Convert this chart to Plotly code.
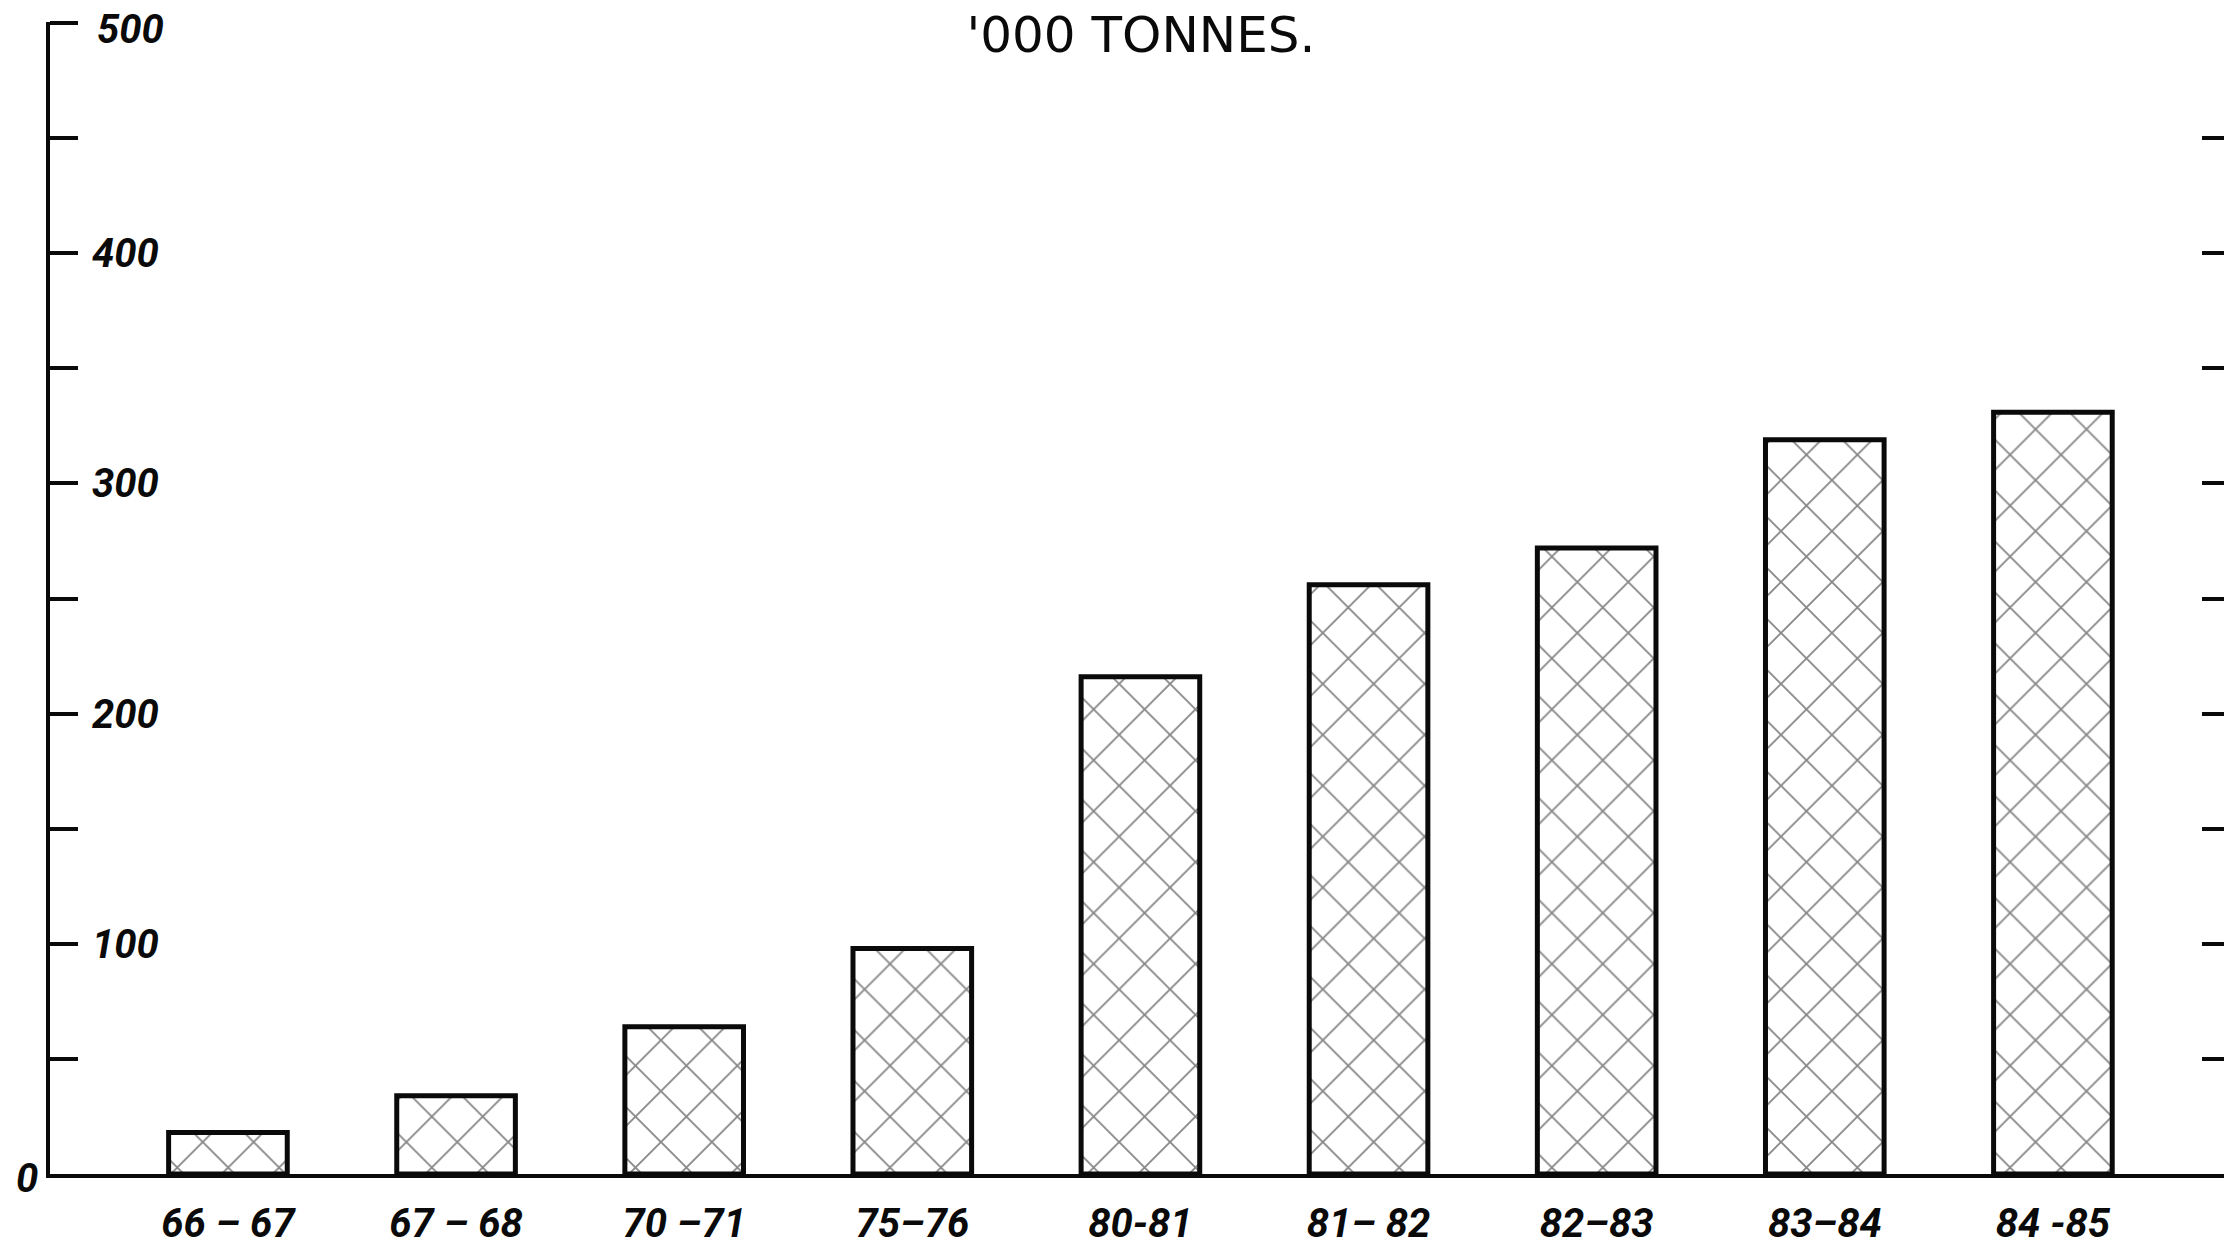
import plotly.graph_objects as go

categories = ["66 – 67", "67 – 68", "70 –71", "75–76", "80-81", "81– 82", "82–83", "83–84", "84 -85"]
values = [18, 34, 64, 98, 216, 256, 272, 319, 331]
y_label_vals = [100, 200, 300, 400]
y_label_text = ["100", "200", "300", "400"]
y_top_val, y_top_text = 500, "500"
y_minor_vals = [50, 150, 250, 350, 450]
right_tick_vals = [50, 100, 150, 200, 250, 300, 350, 400, 450]
title_text = "'000 TONNES."

W, H = 2224, 1255
INK = "#0a0a0a"
label_font = dict(family="Roboto, DejaVu Sans", size=40, color=INK, weight="bold", style="italic")

fig = go.Figure()
fig.add_trace(go.Bar(
    x=list(range(len(categories))), y=values, width=0.52,
    marker=dict(color="white",
                line=dict(color=INK, width=5),
                pattern=dict(shape="x", size=36, solidity=0.1, fgcolor="#111111", bgcolor="white")),
    showlegend=False, hoverinfo="skip"))
# invisible trace so the right-hand tick axis is drawn
fig.add_trace(go.Scatter(x=[0], y=[0], yaxis="y2", mode="none", showlegend=False, hoverinfo="skip"))

fig.update_layout(
    width=W, height=H,
    margin=dict(l=50, r=0, t=22, b=81),
    paper_bgcolor="white", plot_bgcolor="white",
    title=dict(text=title_text, x=1141 / W, xanchor="center", y=1 - 34 / H, yanchor="middle",
               yref="container", font=dict(family="DejaVu Sans", size=50, color=INK)),
    xaxis=dict(range=[-0.78, 8.75], tickmode="array", tickvals=list(range(len(categories))),
               ticktext=categories, showline=True, linecolor=INK, linewidth=4,
               ticks="", showgrid=False, zeroline=False, tickfont=label_font,
               ticklabelstandoff=11),
    yaxis=dict(range=[0, 500.5], tickmode="array", tickvals=y_label_vals, ticktext=y_label_text,
               ticks="inside", ticklen=28, tickwidth=4, tickcolor=INK,
               showline=True, linecolor=INK, linewidth=4, showgrid=False, zeroline=False,
               ticklabelposition="inside", tickfont=label_font, ticklabelstandoff=19,
               minor=dict(tickvals=y_minor_vals + [y_top_val], ticks="inside", ticklen=28,
                          tickwidth=4, tickcolor=INK)),
    yaxis2=dict(range=[0, 500.5], overlaying="y", anchor="free", position=1, side="left",
                tickmode="array", tickvals=right_tick_vals, ticks="outside", ticklen=22,
                tickwidth=4, tickcolor=INK,
                showticklabels=False, showline=False, showgrid=False, zeroline=False),
)
fig.add_annotation(text=y_top_text, xref="paper", yref="y", x=0, y=y_top_val, xanchor="left",
                   yanchor="middle", xshift=45, yshift=-6, showarrow=False, font=label_font)
fig.add_annotation(text="0", xref="paper", yref="y", x=0, y=0, xanchor="right", yanchor="middle",
                   xshift=-10, yshift=-4, showarrow=False, font=label_font)

fig.write_html("out.html", config={"displayModeBar": False},
               post_script="document.body.style.margin='0';document.body.style.overflow='hidden';")
